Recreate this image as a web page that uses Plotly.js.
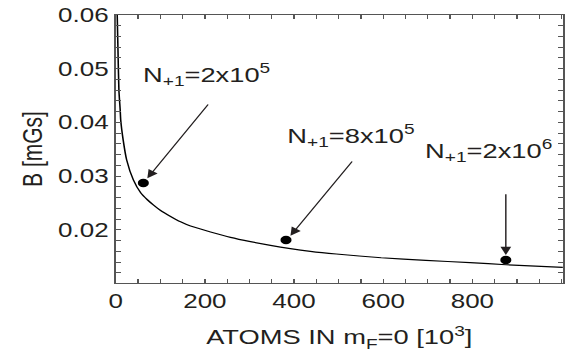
<!DOCTYPE html>
<html><head><meta charset="utf-8">
<script src="https://cdn.plot.ly/plotly-3.0.1.min.js"></script>
<style>
html,body{margin:0;padding:0;background:#fff;overflow:hidden}
#wrap{width:568px;height:355px;overflow:hidden}
#c{width:437px;height:355px;transform:scaleX(1.3);transform-origin:0 0}
</style>
</head><body><div id="wrap"><div id="c"></div></div>
<script>
// Curve: atoms in mF=0 [10^3] vs B [mGs]
const curveX = [3.4, 5.1, 7.2, 10.1, 11.2, 16.8, 24.6, 39.6, 56.0, 71.0, 85.0, 100.7, 123.1, 145.5, 167.9, 212.7, 257.5, 302.3, 347.1, 391.8, 436.6, 494.8, 595.5, 695.4, 794.8, 875.4, 1003];
const curveY = [0.0600, 0.0535, 0.0460, 0.0423, 0.0405, 0.0367, 0.0330, 0.0293, 0.0269, 0.0256, 0.0246, 0.0236, 0.0225, 0.0215, 0.0207, 0.0196, 0.0186, 0.0178, 0.0171, 0.0165, 0.0160, 0.0155, 0.0148, 0.0143, 0.0139, 0.0135, 0.0130];
// Marked points
const dotX = [62, 382, 875];
const dotY = [0.0287, 0.0181, 0.0144];
const dotLabels = ['N<sub>+1</sub>=2x10<sup>5</sup>', 'N<sub>+1</sub>=8x10<sup>5</sup>', 'N<sub>+1</sub>=2x10<sup>6</sup>'];
// arrows: head and tail (data coords)
const arrowHeadX = [71, 392, 875];
const arrowHeadY = [0.0296, 0.0189, 0.0153];
const arrowTailX = [210, 533, 875];
const arrowTailY = [0.0436, 0.0330, 0.0269];
// label anchors: left edge (data x) and vertical middle (data y)
const labelX = [56, 378, 689];
const labelY = [0.0489, 0.0375, 0.0348];

const ink = '#231f20';
const fam = 'Liberation Sans, Arial, sans-serif';
const annotations = [];
for (let i = 0; i < 3; i++) {
  annotations.push({x: arrowHeadX[i], y: arrowHeadY[i], ax: arrowTailX[i], ay: arrowTailY[i],
    axref: 'x', ayref: 'y', xref: 'x', yref: 'y', text: '', showarrow: true,
    arrowhead: 2, arrowsize: 1.5, arrowwidth: 1.1, arrowcolor: ink, standoff: 0, startstandoff: 0});
}
for (let i = 0; i < 3; i++) {
  annotations.push({x: labelX[i], xref: 'x', y: labelY[i], yref: 'y',
    xanchor: 'left', yanchor: 'middle', text: dotLabels[i], showarrow: false,
    font: {family: fam, color: ink, size: 21}});
}

const traces = [
  {x: curveX, y: curveY, mode: 'lines', line: {color: '#000', width: 1.2, shape: 'spline', smoothing: 0.6}, hoverinfo: 'skip'},
  {x: dotX, y: dotY, mode: 'markers', marker: {color: '#000', size: 8.5}, hoverinfo: 'skip'}
];

const axisCommon = {
  ticks: 'inside', ticklen: 4, tickcolor: '#555', showline: true, linecolor: '#555', linewidth: 1.4,
  mirror: 'allticks', showgrid: false, zeroline: false, tickfont: {size: 20}
};

const layout = {
  width: 437, height: 355,
  margin: {l: 88.5, r: 3.8, t: 15, b: 72},
  paper_bgcolor: '#fff', plot_bgcolor: '#fff',
  showlegend: false,
  font: {family: fam, color: ink, size: 20},
  xaxis: Object.assign({}, axisCommon, {range: [0, 1003], tickmode: 'linear', tick0: 0, dtick: 200,
    minor: {tick0: 0, dtick: 50, ticks: 'inside', ticklen: 4, tickcolor: '#555', showgrid: false},
    title: {text: 'ATOMS IN m<sub>F</sub>=0 [10<sup>3</sup>]', font: {size: 21}, standoff: 18}}),
  yaxis: Object.assign({}, axisCommon, {range: [0.0101, 0.06], tickmode: 'linear', tick0: 0, dtick: 0.01, tickformat: '.2f',
    minor: {tick0: 0, dtick: 0.002, ticks: 'inside', ticklen: 4, tickcolor: '#555', showgrid: false},
    title: {text: 'B [mGs]', font: {size: 21}, standoff: 6}}),
  annotations: annotations
};
Plotly.newPlot('c', traces, layout, {displayModeBar: false, staticPlot: true});
</script></body></html>
